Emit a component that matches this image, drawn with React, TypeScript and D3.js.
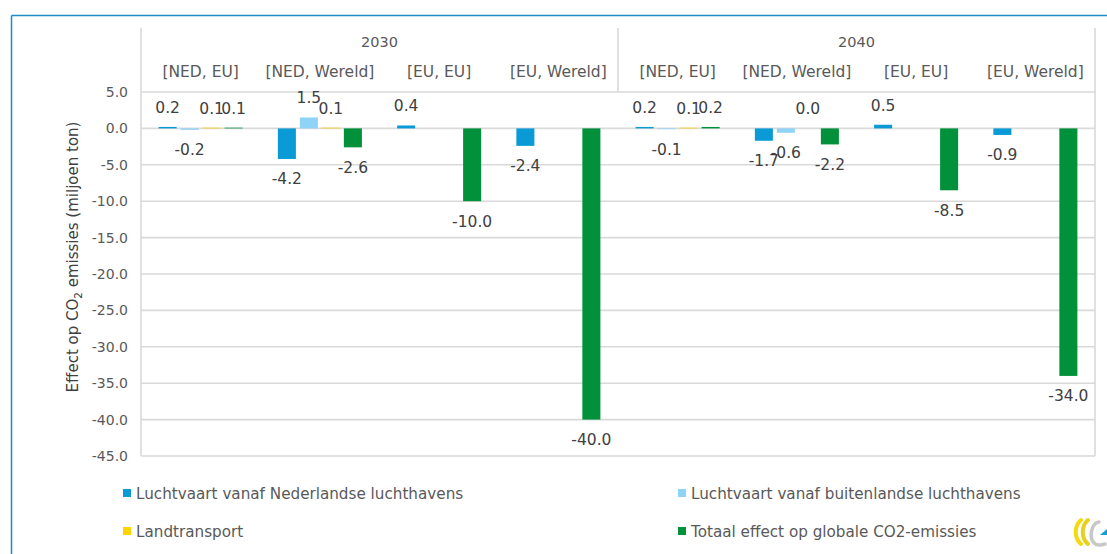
import React from "react";
import * as d3 from "d3";

// chart size
const width = 1107;
const height = 554;

// categories: years with four scenarios each
const years = ["2030", "2040"];
const scenarios = ["[NED, EU]", "[NED, Wereld]", "[EU, EU]", "[EU, Wereld]"];

// series (null = no bar, no label)
const seriesNames = [
  "Luchtvaart vanaf Nederlandse luchthavens",
  "Luchtvaart vanaf buitenlandse luchthavens",
  "Landtransport",
  "Totaal effect op globale CO2-emissies",
];
const nedValues = [0.2, -4.2, 0.4, -2.4, 0.2, -1.7, 0.5, -0.9];
const buitenlandValues = [-0.2, 1.5, null, null, -0.1, -0.6, null, null];
const landValues = [0.1, 0.1, null, null, 0.1, 0.0, null, null];
const totaalValues = [0.1, -2.6, -10.0, -40.0, 0.2, -2.2, -8.5, -34.0];
const seriesColors = ["#0a9bd7", "#8fd3f7", "#ffd400", "#00913a"];

// y axis
const yTicks = [5, 0, -5, -10, -15, -20, -25, -30, -35, -40, -45];

const allSeries = [nedValues, buitenlandValues, landValues, totaalValues];

const plot = { left: 141, right: 1095, top: 92, bottom: 456, headerTop: 28 };
const font = "'DejaVu Sans', Verdana, sans-serif";
const gridColor = "#d9d9d9";

// excel style number, plain hyphen for negatives
const fmt = (v: number) => v.toFixed(1);

export default function App() {
  const categories = years.flatMap((yr) => scenarios.map((s) => yr + " " + s));

  const x0 = d3.scaleBand<string>().domain(categories).range([plot.left, plot.right]);
  const x1 = d3
    .scaleBand<number>()
    .domain(d3.range(seriesNames.length))
    .range([0, x0.bandwidth()])
    .paddingInner(0.18)
    .paddingOuter(0.8);
  const yearX = d3.scaleBand<string>().domain(years).range([plot.left, plot.right]);
  const y = d3.scaleLinear().domain([-45, 5]).range([plot.bottom, plot.top]);

  return (
    <svg
      width={width}
      height={height}
      style={{ position: "absolute", left: 0, top: 0, display: "block", background: "#fff" }}
      fontFamily={font}
    >
      {/* outer frame */}
      <line x1={11.5} y1={15.5} x2={width} y2={15.5} stroke="#1b8cc6" strokeWidth={1.5} />
      <line x1={11.5} y1={15.5} x2={11.5} y2={height} stroke="#1b8cc6" strokeWidth={1.5} />

      {/* grid lines */}
      {yTicks.map((t) => (
        <line key={t} x1={plot.left} x2={plot.right} y1={y(t)} y2={y(t)} stroke={gridColor} strokeWidth={1.6} />
      ))}
      {/* vertical borders incl. header */}
      {[plot.left, plot.right].map((xv, i) => (
        <line key={i} x1={xv} x2={xv} y1={plot.headerTop} y2={plot.bottom} stroke={gridColor} strokeWidth={1.6} />
      ))}
      {years.slice(1).map((yr) => (
        <line
          key={yr}
          x1={yearX(yr)!}
          x2={yearX(yr)!}
          y1={plot.headerTop}
          y2={plot.top}
          stroke={gridColor}
          strokeWidth={1.6}
        />
      ))}

      {/* header labels */}
      {years.map((yr) => (
        <text
          key={yr}
          x={yearX(yr)! + yearX.bandwidth() / 2}
          y={46.5}
          textAnchor="middle"
          fontSize={14.5}
          fill="#595959"
        >
          {yr}
        </text>
      ))}
      {categories.map((c) => (
        <text
          key={c}
          x={x0(c)! + x0.bandwidth() / 2}
          y={76.5}
          textAnchor="middle"
          fontSize={15.5}
          fill="#595959"
        >
          {c.slice(5)}
        </text>
      ))}

      {/* y tick labels */}
      {yTicks.map((t) => (
        <text key={t} x={128} y={y(t) + 5} textAnchor="end" fontSize={14} fill="#595959">
          {fmt(t)}
        </text>
      ))}

      {/* y title */}
      <text
        transform={`translate(78,${257}) rotate(-90)`}
        textAnchor="middle"
        fontSize={15}
        fill="#404040"
      >
        Effect op CO
        <tspan fontSize={10.5} dy={4}>
          2
        </tspan>
        <tspan dy={-4}> emissies (miljoen ton)</tspan>
      </text>

      {/* bars */}
      {allSeries.map((vals, si) =>
        vals.map((v, ci) =>
          v === null ? null : (
            <rect
              key={si + "-" + ci}
              x={x0(categories[ci])! + x1(si)!}
              width={x1.bandwidth()}
              y={y(Math.max(0, v))}
              height={Math.abs(y(v) - y(0))}
              fill={seriesColors[si]}
            />
          )
        )
      )}

      {/* data labels */}
      {allSeries.map((vals, si) =>
        vals.map((v, ci) =>
          v === null ? null : (
            <text
              key={"l" + si + "-" + ci}
              x={x0(categories[ci])! + x1(si)! + x1.bandwidth() / 2}
              y={v >= 0 ? y(v) - 14 : y(v) + 25.5}
              textAnchor="middle"
              fontSize={15.5}
              fill="#404040"
            >
              {fmt(v)}
            </text>
          )
        )
      )}

      {/* legend */}
      {seriesNames.map((name, i) => {
        const lx = i % 2 === 0 ? 123 : 678;
        const ly = i < 2 ? 493 : 531;
        return (
          <g key={name}>
            <rect x={lx} y={ly - 4} width={8} height={8} fill={seriesColors[i]} />
            <text x={lx + 13} y={ly + 5.5} fontSize={15.2} fill="#595959">
              {name}
            </text>
          </g>
        );
      })}

      {/* small logo bottom right */}
      <g transform="translate(1072,518)" fill="none" strokeLinecap="round">
        <path d="M9,2 C2,8 2,20 9,26" stroke="#f5d90a" strokeWidth={4} />
        <path d="M16,2 C9,8 9,20 16,26" stroke="#e8cf20" strokeWidth={4} />
        <path d="M27,4 C19,5 17,20 22,25 C25,28 30,27 33,26" stroke="#c8c8c8" strokeWidth={3.5} />
        <path d="M28,17 L36,10 L36,17 Z" fill="#1a9ad6" stroke="none" />
      </g>
    </svg>
  );
}
